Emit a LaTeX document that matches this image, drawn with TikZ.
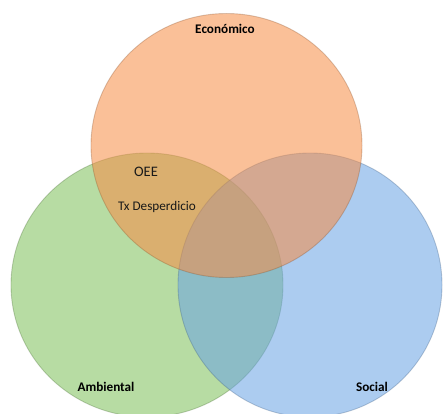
\documentclass[tikz,border=0pt]{standalone}
\usepackage{fontspec}
\setmainfont{Carlito}
\begin{document}
\definecolor{ecoFill}{RGB}{246,140,68}
\definecolor{ambFill}{RGB}{124,191,88}
\definecolor{socFill}{RGB}{104,162,228}
\begin{tikzpicture}[x=1pt,y=-1pt,
  setc/.style={fill=#1Fill,fill opacity=0.55,draw=#1Fill!55!black,draw opacity=0.3,line width=0.9pt},
  title/.style={font=\fontsize{13.2}{15}\selectfont\bfseries,text=black},
  inner/.style={font=\fontsize{13.2}{15}\selectfont,text=black!90}]
  \useasboundingbox (0,0) rectangle (444,414);
  \clip (0,0) rectangle (444,414);
  % the three sets
  \path[setc=amb] (147,285) ellipse [x radius=136, y radius=132];
  \path[setc=soc] (310,285) ellipse [x radius=132, y radius=132];
  \path[setc=eco] (226.5,145.5) ellipse [x radius=135.5, y radius=132];
  % set labels
  \node[title] (eco) at (225,29) {Económico};
  \node[title] (amb) at (106,387) {Ambiental};
  \node[title] (soc) at (372,387) {Social};
  % indicators in Económico ∩ Ambiental
  \node[inner,font=\fontsize{14.5}{16}\selectfont] (oee) at (146,172) {OEE};
  \node[inner] (tx) at (157,207) {Tx Desperdicio};
\end{tikzpicture}
\end{document}
